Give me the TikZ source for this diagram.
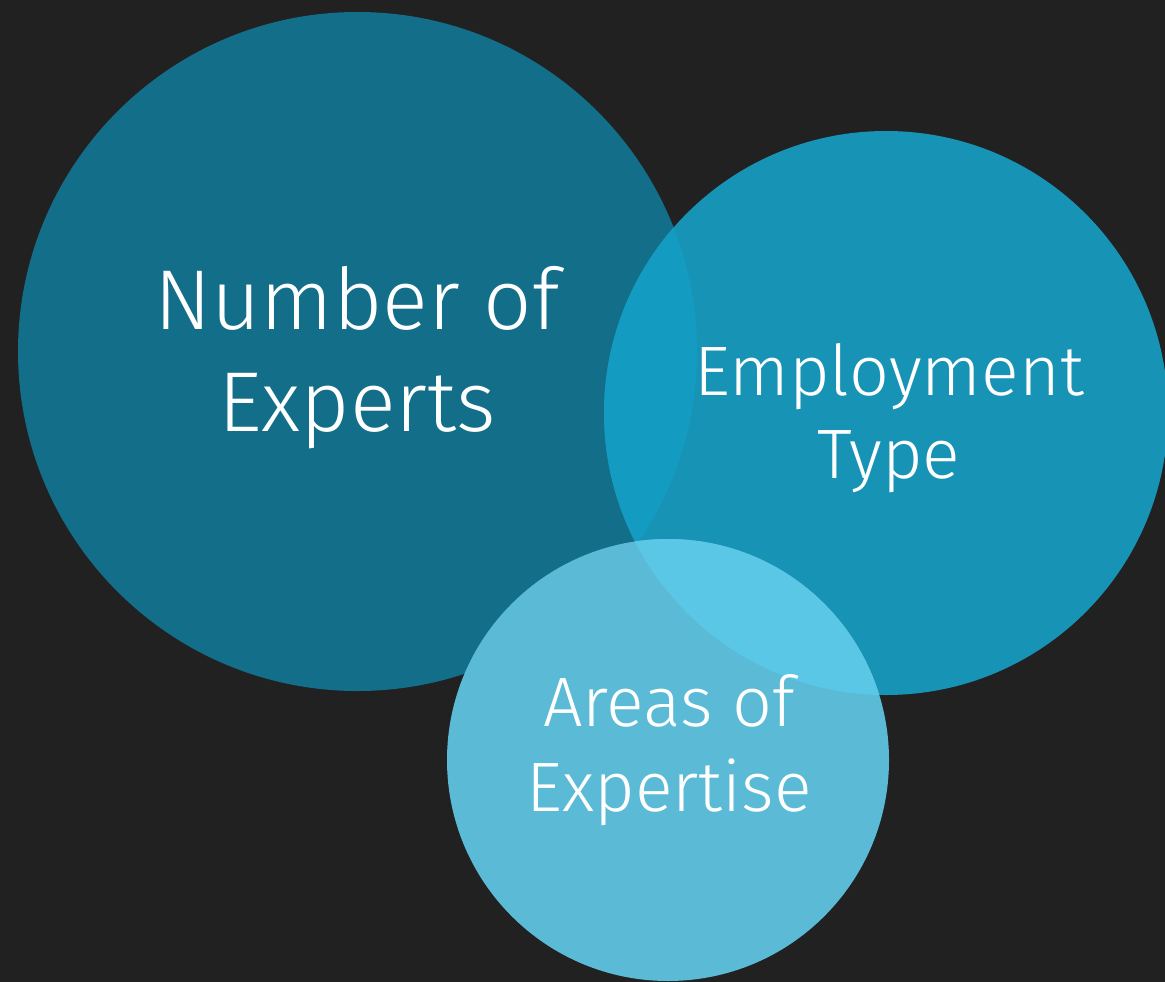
\documentclass[tikz,border=0pt]{standalone}
\usepackage{fontspec}
\setmainfont{Fira Sans}[UprightFont=* Light]
\definecolor{bgdark}{HTML}{212121}
\definecolor{expertsblue}{HTML}{126E89}
\definecolor{employblue}{HTML}{1793B6}
\definecolor{overlapblue}{HTML}{149BC2}
\definecolor{areasblue}{HTML}{5BBBD7}
\definecolor{areasover}{HTML}{5AC7E6}
\tikzset{label text/.style={text=white, align=center, inner sep=0pt}}
\begin{document}
\begin{tikzpicture}[x=1pt,y=-1pt]
		\fill[bgdark] (0,0) rectangle (1165,982);
		\useasboundingbox (0,0) rectangle (1165,982);
		\fill[expertsblue] (357.5,351.5) circle(339.5);
		\fill[employblue] (886,413) circle(282);
		
		\begin{scope}
			\clip (357.5,351.5) circle(339.5);
			\fill[overlapblue] (886,413) circle(282);
		\end{scope}
		
		\fill[areasblue] (668,760) circle(221);
		\begin{scope}
			\clip (886,413) circle(282);
			\fill[areasover] (668,760) circle(221);
		\end{scope}
		
		\node[label text, font=\fontsize{85}{102}\selectfont] (experts) at (357,358) {Number of\\Experts};
		\node[label text, font=\fontsize{70}{83}\selectfont] (employment) at (889,418) {Employment\\Type};
		\node[label text, font=\fontsize{70}{85}\selectfont] (areas) at (669,750) {Areas of\\Expertise};
	\end{tikzpicture}
\end{document}
